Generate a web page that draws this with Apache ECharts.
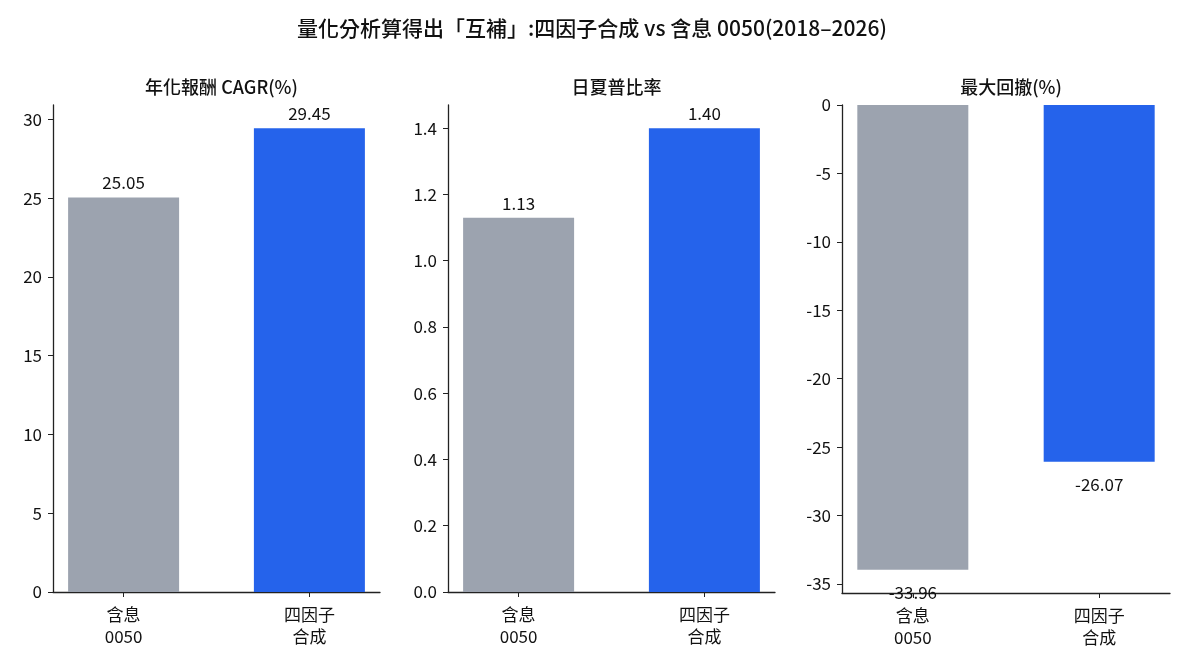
<!DOCTYPE html>
<html>
<head>
<meta charset="utf-8">
<script src="https://cdn.jsdelivr.net/npm/echarts@6/dist/echarts.min.js"></script>
<style>
  html, body { margin: 0; padding: 0; background: #fff; }
  #main { width: 1184px; height: 666px; }
</style>
</head>
<body>
<div id="main"></div>
<script>
const categories = ['含息\n0050', '四因子\n合成'];
const panelTitles = ['年化報酬 CAGR(%)', '日夏普比率', '最大回撤(%)'];
const cagr = [25.05, 29.45];
const sharpe = [1.13, 1.40];
const maxDrawdown = [-33.96, -26.07];
const cagrTicks = [0, 5, 10, 15, 20, 25, 30];
const sharpeTicks = [0, 0.2, 0.4, 0.6, 0.8, 1.0, 1.2, 1.4];
const ddTicks = [-35, -30, -25, -20, -15, -10, -5, 0];
const barColors = ['#9ca3af', '#2563eb'];

window.addEventListener('load', function () {
  var chart = echarts.init(document.getElementById('main'));
  const font = '"Noto Sans CJK TC", "Noto Sans", sans-serif';

  const grids = [
    { left: 53, top: 105, width: 327, height: 487 },
    { left: 448, top: 105, width: 327, height: 487 },
    { left: 842, top: 105, width: 328, height: 488 }
  ];
  const yRanges = [[0, 30.92], [0, 1.47], [-35.66, 0]];
  const yTicks = [cagrTicks, sharpeTicks, ddTicks];
  const values = [cagr, sharpe, maxDrawdown];

  function yLabel(i, v) {
    if (i === 1) return v.toFixed(1);
    return String(v);
  }

  var xAxes = [], yAxes = [], series = [], titles = [];
  titles.push({
    text: '量化分析算得出「互補」:四因子合成 vs 含息 0050(2018–2026)',
    left: 'center', top: 13,
    textStyle: { fontFamily: font, fontSize: 21, fontWeight: 500, color: '#111' }
  });
  for (let i = 0; i < 3; i++) {
    const g = grids[i];
    titles.push({
      text: panelTitles[i],
      left: g.left + g.width / 2, top: 73, textAlign: 'center',
      textStyle: { fontFamily: font, fontSize: 18, fontWeight: 500, color: '#111' }
    });
    xAxes.push({
      gridIndex: i, type: 'value', min: -0.38, max: 1.38,
      position: 'bottom',
      axisLine: { onZero: false, lineStyle: { color: '#222', width: 1.3 } },
      axisTick: { show: true, customValues: [0, 1], length: 5, lineStyle: { color: '#222' } },
      axisLabel: {
        customValues: [0, 1], color: '#111', fontFamily: font, fontSize: 17, lineHeight: 22, margin: 12,
        formatter: function (v) { return categories[Math.round(v)]; }
      },
      splitLine: { show: false }
    });
    yAxes.push({
      gridIndex: i, type: 'value', min: yRanges[i][0], max: yRanges[i][1],
      axisLine: { show: true, onZero: false, lineStyle: { color: '#222', width: 1.3 } },
      axisTick: { show: true, customValues: yTicks[i], length: 5, lineStyle: { color: '#222' } },
      axisLabel: {
        customValues: yTicks[i], color: '#111', fontFamily: font, fontSize: 17, margin: 11,
        formatter: function (v) { return yLabel(i, v); }
      },
      splitLine: { show: false }
    });
    series.push({
      type: 'bar', xAxisIndex: i, yAxisIndex: i, barWidth: 111,
      data: values[i].map(function (v, k) {
        return { value: [k, v], itemStyle: { color: barColors[k] } };
      }),
      label: {
        show: true,
        position: i === 2 ? 'bottom' : 'top',
        distance: i === 2 ? 14 : 6,
        color: '#111', fontFamily: font, fontSize: 17,
        formatter: function (p) { return p.value[1].toFixed(2); }
      }
    });
  }

  chart.setOption({
    animation: false,
    backgroundColor: '#fff',
    title: titles,
    grid: grids,
    xAxis: xAxes,
    yAxis: yAxes,
    series: series
  });
});
</script>
</body>
</html>
